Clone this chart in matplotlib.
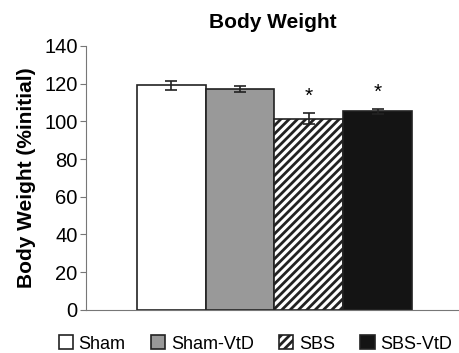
import numpy as np
import matplotlib.pyplot as plt
from matplotlib.patches import Patch

# Data
groups = ["Sham", "Sham-VtD", "SBS", "SBS-VtD"]
weights = [119.0, 117.0, 101.5, 105.3]
errors = [2.5, 1.6, 3.0, 1.2]
signif = ["", "", "*", "*"]

colors = ["white", "#999999", "white", "#141414"]
hatches = [None, None, "////", None]

plt.rcParams["font.family"] = "Liberation Sans"
plt.rcParams["hatch.linewidth"] = 2.0

fig = plt.figure(figsize=(4.6, 3.53), dpi=100)
ax = fig.add_axes([0.187, 0.122, 0.813, 0.748])

x = np.arange(len(groups))
bars = ax.bar(x, weights, width=1.0, color=colors, edgecolor="#222222", linewidth=1.2)
for b, h in zip(bars, hatches):
    if h:
        b.set_hatch(h)
ax.errorbar(x, weights, yerr=errors, fmt="none", ecolor="#222222",
            elinewidth=1.2, capsize=4, capthick=1.2)

for xi, w, e, s in zip(x, weights, errors, signif):
    if s:
        ax.text(xi, w + e + 9, s, ha="center", va="center", fontsize=15)

ax.set_xlim(-1.24, 4.2)
ax.set_ylim(0, 140)
ax.set_yticks(np.arange(0, 141, 20))
ax.set_xticks([])
ax.tick_params(axis="y", labelsize=14.5, length=4, color="#777777", pad=2)
for sp in ["top", "right"]:
    ax.spines[sp].set_visible(False)
for sp in ["left", "bottom"]:
    ax.spines[sp].set_color("#777777")
ax.set_ylabel("Body Weight (%initial)", fontsize=15, fontweight="bold", labelpad=6)
ax.set_title("Body Weight", fontsize=15, fontweight="bold", pad=13)

handles = [Patch(facecolor=c, edgecolor="#222222", hatch=h, linewidth=1.2)
           for c, h in zip(colors, hatches)]
fig.legend(handles, groups, loc="lower center", ncol=4, frameon=False,
           fontsize=13, bbox_to_anchor=(0.555, -0.045), handlelength=0.8,
           handleheight=0.8, handletextpad=0.3, columnspacing=1.4)

fig.savefig("out.png", dpi=100)
